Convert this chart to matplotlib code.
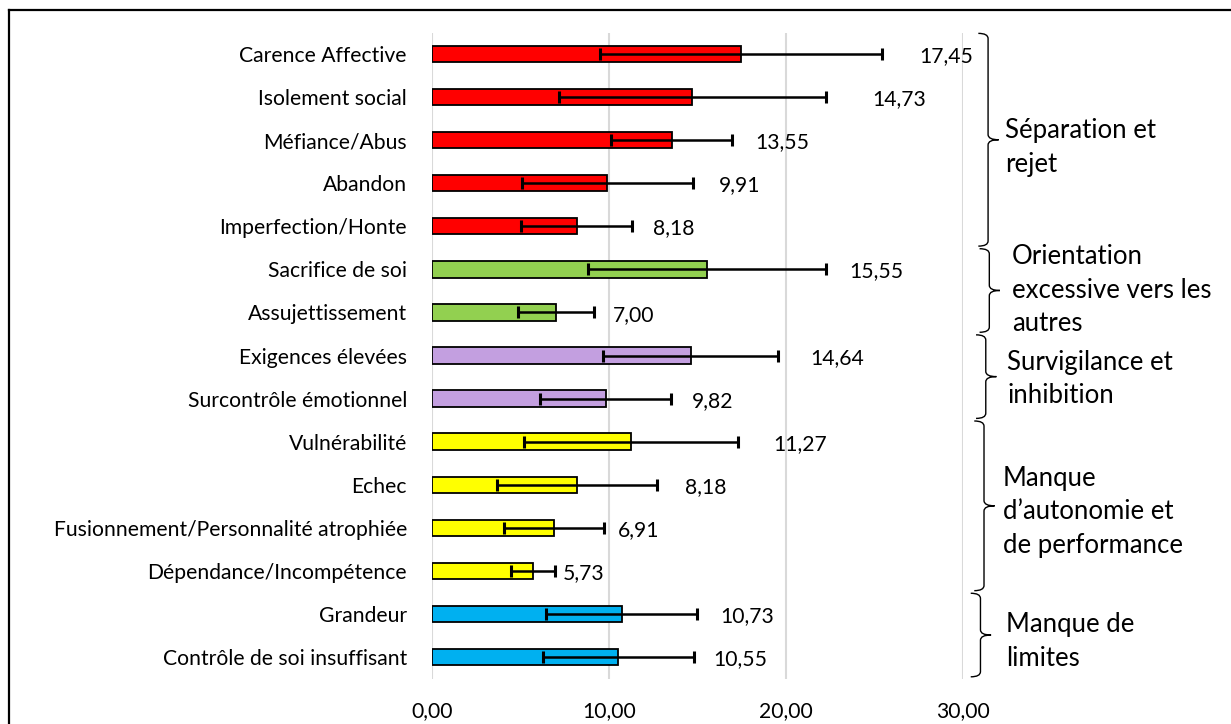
import matplotlib
matplotlib.use("Agg")
import matplotlib.pyplot as plt
from matplotlib.path import Path
from matplotlib.patches import PathPatch
from matplotlib.lines import Line2D

# ---------------- data ----------------
categories = [
    "Carence Affective", "Isolement social", "Méfiance/Abus", "Abandon",
    "Imperfection/Honte", "Sacrifice de soi", "Assujettissement",
    "Exigences élevées", "Surcontrôle émotionnel", "Vulnérabilité", "Echec",
    "Fusionnement/Personnalité atrophiée", "Dépendance/Incompétence",
    "Grandeur", "Contrôle de soi insuffisant",
]
means = [17.45, 14.73, 13.55, 9.91, 8.18, 15.55, 7.00, 14.64, 9.82,
         11.27, 8.18, 6.91, 5.73, 10.73, 10.55]
errors = [7.97, 7.55, 3.42, 4.83, 3.13, 6.74, 2.15, 4.94, 3.70,
          6.05, 4.52, 2.82, 1.25, 4.27, 4.25]
group_names = ["Séparation et\nrejet",
               "Orientation\nexcessive vers les\nautres",
               "Survigilance et\ninhibition",
               "Manque\nd’autonomie et\nde performance",
               "Manque de\nlimites"]
group_sizes = [5, 2, 2, 4, 2]
group_colors = ["#FF0000", "#92D050", "#C39FE0", "#FFFF00", "#00B0F0"]
x_ticks = [0, 10, 20, 30]

# ---------------- style / layout ----------------
label_pad = [2.1, 2.6, 1.3, 1.5, 1.2, 1.3, 1.1, 1.8, 1.2, 2.0, 1.6, 0.8, 0.4, 1.3, 1.1]
brace_x = [31.43, 31.5, 31.3, 31.2, 31.0]
text_x = [32.39, 32.79, 32.5, 32.27, 32.44]
text_dy = [0.17, -0.02, 0.05, 0.13, 0.14]
FONT = "Lato"
FS = 15.2

plt.rcParams["font.family"] = [FONT, "DejaVu Sans"]

fig = plt.figure(figsize=(12.31, 7.24), dpi=100)
ax = fig.add_axes([0.3507, 0.0628, 0.4314, 0.8923])

colors = []
for c, n in zip(group_colors, group_sizes):
    colors += [c] * n

y = list(range(len(categories)))
ax.barh(y, means, height=0.38, color=colors, edgecolor="black",
        linewidth=1.3, zorder=3)
ax.errorbar(means, y, xerr=errors, fmt="none", ecolor="black",
            elinewidth=1.8, capsize=4.2, capthick=2.2, zorder=4)

for yi, v, e, p in zip(y, means, errors, label_pad):
    ax.text(v + e + p, yi + 0.05, f"{v:.2f}".replace(".", ","),
            ha="left", va="center", fontsize=FS)

ax.set_xlim(0, 30)
ax.set_ylim(len(categories) - 0.5, -0.5)
ax.set_xticks(x_ticks)
ax.set_xticklabels([f"{t:.2f}".replace(".", ",") for t in x_ticks], fontsize=FS)
ax.set_yticks(y)
ax.set_yticklabels(categories, fontsize=FS)
ax.tick_params(axis="both", length=0)
ax.tick_params(axis="y", pad=17.8)
ax.tick_params(axis="x", pad=16)
for s in ax.spines.values():
    s.set_visible(False)
ax.grid(axis="x", color="#D9D9D9", linewidth=1.5, zorder=0)
ax.set_axisbelow(True)

# ---------------- braces ----------------
def brace(ax, x, y0, y1, hook=0.55, tip=0.6, r=0.12):
    ym = (y0 + y1) / 2
    verts = [(x - hook, y0), (x, y0), (x, y0 + r),
             (x, ym - r), (x, ym), (x + tip, ym),
             (x, ym), (x, ym + r),
             (x, y1 - r), (x, y1), (x - hook, y1)]
    codes = [Path.MOVETO, Path.CURVE3, Path.CURVE3,
             Path.LINETO, Path.CURVE3, Path.CURVE3,
             Path.CURVE3, Path.CURVE3,
             Path.LINETO, Path.CURVE3, Path.CURVE3]
    pp = PathPatch(Path(verts, codes), fill=False, edgecolor="black",
                   linewidth=1.0, clip_on=False, zorder=5)
    ax.add_patch(pp)

start = 0
for i, (name, n) in enumerate(zip(group_names, group_sizes)):
    y0 = start - 0.5 + 0.02
    y1 = start + n - 0.5 - 0.04
    brace(ax, brace_x[i], y0, y1)
    ax.text(text_x[i], (start + start + n - 1) / 2 + text_dy[i], name,
            ha="left", va="center", fontsize=18.5, linespacing=1.42,
            clip_on=False)
    start += n

# outer border (top and left edges visible)
top = 1 - 10 / 724
left = 8.5 / 1231
fig.add_artist(Line2D([left, 1.0], [top, top], transform=fig.transFigure,
                      color="black", linewidth=1.6))
fig.add_artist(Line2D([left, left], [top, 0.0], transform=fig.transFigure,
                      color="black", linewidth=1.6))

fig.savefig("out.png", dpi=100)
